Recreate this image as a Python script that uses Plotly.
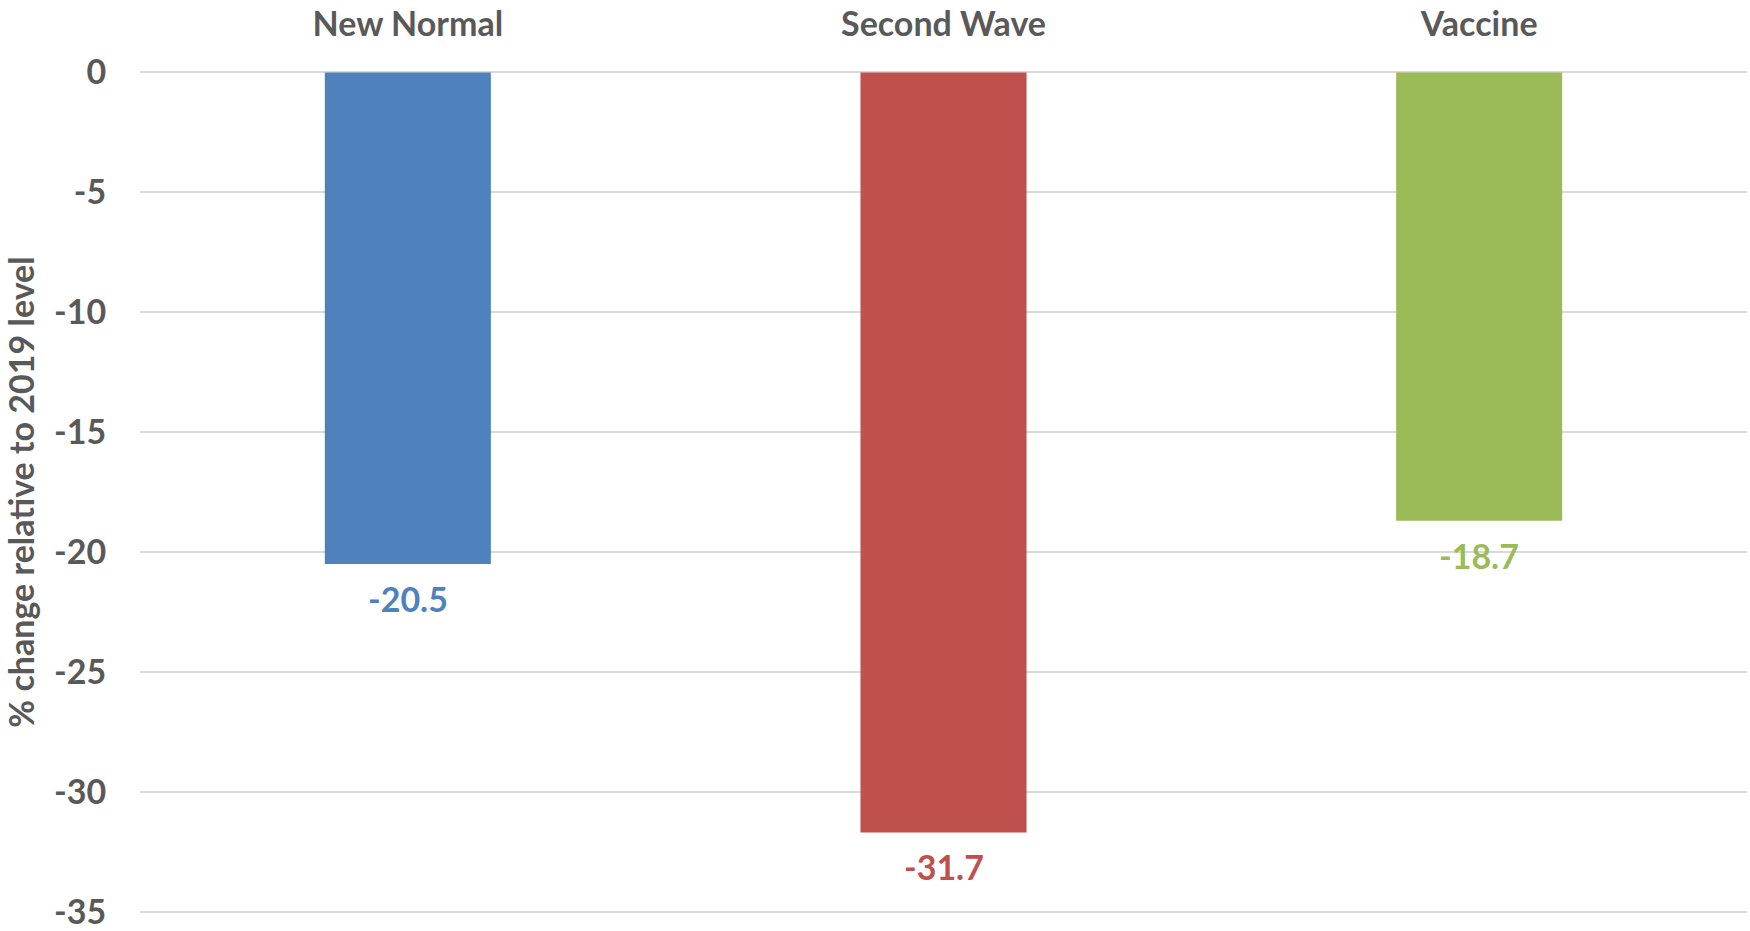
import plotly.graph_objects as go

# Change in activity by pandemic phase
phases = ["New Normal", "Second Wave", "Vaccine"]
pct_change = [-20.5, -31.7, -18.7]
bar_colors = ["#4F81BD", "#C0504D", "#9BBB59"]
y_ticks = [0, -5, -10, -15, -20, -25, -30, -35]

TEXT = "#595959"
FONT = "Lato"
SIZE = 34

fig = go.Figure(
    go.Bar(
        x=phases,
        y=pct_change,
        marker=dict(color=bar_colors, line=dict(width=0)),
        width=0.31,
        hoverinfo="x+y",
    )
)

# value labels beneath each bar end
for name, val, col in zip(phases, pct_change, bar_colors):
    fig.add_annotation(
        x=name,
        y=val,
        text=f"{val:.1f}",
        showarrow=False,
        yanchor="top",
        yshift=-12,
        font=dict(family=FONT, size=SIZE, color=col, weight="bold"),
    )

fig.update_layout(
    width=1750,
    height=931,
    margin=dict(l=140, r=3, t=70, b=17, autoexpand=False),
    paper_bgcolor="white",
    plot_bgcolor="white",
    showlegend=False,
    font=dict(family=FONT, size=SIZE, color=TEXT),
    xaxis=dict(
        side="top",
        automargin=False,
        showgrid=False,
        showline=False,
        zeroline=False,
        ticks="outside",
        ticklen=0,
        ticklabelstandoff=19,
        tickfont=dict(family=FONT, size=SIZE, color=TEXT, weight="bold"),
    ),
    yaxis=dict(
        range=[-35.1, 0.1],
        automargin=False,
        tickvals=y_ticks,
        ticktext=[str(v) for v in y_ticks],
        showgrid=True,
        gridcolor="#D9D9D9",
        gridwidth=2,
        zeroline=False,
        showline=False,
        ticks="outside",
        ticklen=0,
        ticklabelstandoff=26,
        ticklabeloverflow="allow",
        tickfont=dict(family=FONT, size=SIZE, color=TEXT, weight="bold"),
        title=dict(
            text="% change relative to 2019 level",
            font=dict(family=FONT, size=SIZE, color=TEXT, weight="bold"),
            standoff=12,
        ),
    ),
)

fig.write_html("out.html")
